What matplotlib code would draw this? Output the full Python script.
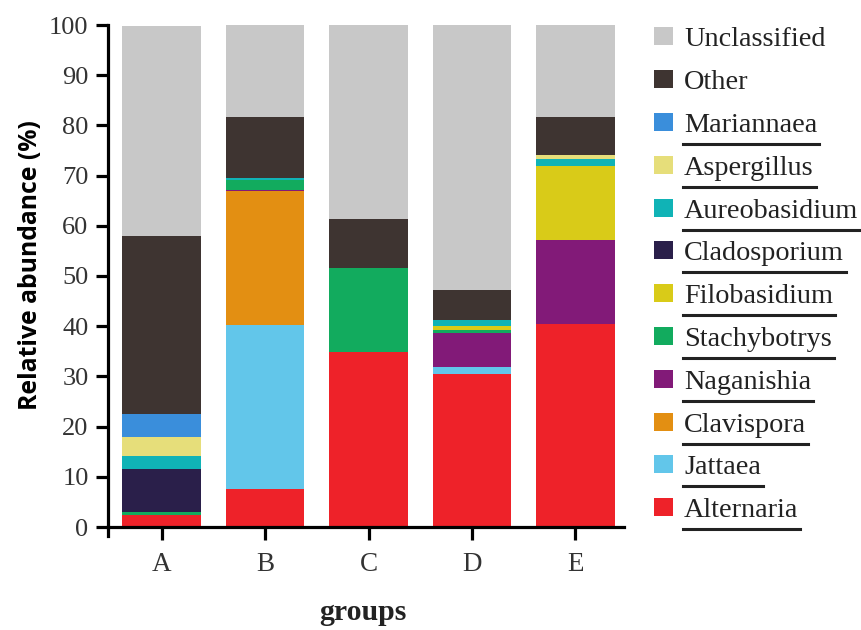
import matplotlib
matplotlib.use("Agg")
import matplotlib.pyplot as plt
import numpy as np
from matplotlib.patches import Rectangle
from matplotlib.lines import Line2D

groups = ["A", "B", "C", "D", "E"]

# stacked bottom -> top
taxa = ["Alternaria", "Jattaea", "Clavispora", "Naganishia", "Stachybotrys",
        "Filobasidium", "Cladosporium", "Aureobasidium", "Aspergillus",
        "Mariannaea", "Other", "Unclassified"]

Alternaria    = [2.4, 7.6, 34.8, 30.5, 40.4]
Jattaea       = [0.0, 32.6, 0.0, 1.4, 0.0]
Clavispora    = [0.0, 26.7, 0.0, 0.0, 0.0]
Naganishia    = [0.0, 0.3, 0.0, 6.8, 16.7]
Stachybotrys  = [0.5, 1.9, 16.7, 0.5, 0.0]
Filobasidium  = [0.0, 0.0, 0.0, 0.8, 14.8]
Cladosporium  = [8.7, 0.0, 0.0, 0.0, 0.0]
Aureobasidium = [2.6, 0.4, 0.0, 1.2, 1.5]
Aspergillus   = [3.8, 0.0, 0.0, 0.0, 0.7]
Mariannaea    = [4.6, 0.0, 0.0, 0.0, 0.0]
Other         = [35.4, 12.1, 9.9, 6.0, 7.6]
Unclassified  = [41.8, 18.4, 38.6, 52.8, 18.3]

values = {
    "Alternaria": Alternaria, "Jattaea": Jattaea, "Clavispora": Clavispora,
    "Naganishia": Naganishia, "Stachybotrys": Stachybotrys,
    "Filobasidium": Filobasidium, "Cladosporium": Cladosporium,
    "Aureobasidium": Aureobasidium, "Aspergillus": Aspergillus,
    "Mariannaea": Mariannaea, "Other": Other, "Unclassified": Unclassified,
}

colors = {
    "Unclassified": "#C8C8C8",
    "Other": "#3E3431",
    "Mariannaea": "#3A8EDB",
    "Aspergillus": "#E6DE7A",
    "Aureobasidium": "#10B3B6",
    "Cladosporium": "#2A1F4A",
    "Filobasidium": "#D9CB18",
    "Stachybotrys": "#12AB5E",
    "Naganishia": "#821A78",
    "Clavispora": "#E38F12",
    "Jattaea": "#62C6EA",
    "Alternaria": "#EE2229",
}

W, H = 861, 630
fig = plt.figure(figsize=(W / 100, H / 100), dpi=100)
ax = fig.add_axes([108 / W, 1 - 527 / H, (624 - 108) / W, 502 / H])

x = np.arange(len(groups))
bottom = np.zeros(len(groups))
for t in taxa:
    v = np.array(values[t])
    ax.bar(x, v, bottom=bottom, width=0.76, color=colors[t], linewidth=0)
    bottom += v

ax.set_xlim(-0.52, 4.47)
ax.set_ylim(0, 100)
ax.set_yticks(np.arange(0, 101, 10))
ax.set_xticks(x)
ax.set_xticklabels(groups)
for s in ["top", "right"]:
    ax.spines[s].set_visible(False)
for s in ["left", "bottom"]:
    ax.spines[s].set_linewidth(2.3)
ax.tick_params(axis="both", width=2.3, length=9, direction="out",
               labelsize=19.5, colors="black")
ax.tick_params(axis="y", labelsize=19, pad=5)
ax.tick_params(axis="x", pad=9)
for lab in ax.get_xticklabels() + ax.get_yticklabels():
    lab.set_fontfamily("Liberation Serif")
    lab.set_color("#333333")

# extra tick below origin
fig.add_artist(Line2D([108 / W, 108 / W], [1 - 527 / H, 1 - 536 / H],
                      color="black", lw=2.3))

fig.text(31 / W, 1 - 265 / H, "Relative abundance (%)", rotation=90,
         ha="center", va="center", fontsize=17.8, fontweight="bold",
         family="Open Sans")
fig.text(363 / W, 1 - 612 / H, "groups", ha="center", va="center",
         fontsize=21.5, fontweight="bold", family="Liberation Serif",
         color="#222222")

# legend (manual)
legend_order = ["Unclassified", "Other", "Mariannaea", "Aspergillus",
                "Aureobasidium", "Cladosporium", "Filobasidium",
                "Stachybotrys", "Naganishia", "Clavispora", "Jattaea",
                "Alternaria"]
ul0, step = 144 - 2 * 42.8, 42.8
renderer = fig.canvas.get_renderer()
for i, name in enumerate(legend_order):
    ul = ul0 + i * step
    base = ul - 12
    fig.add_artist(Rectangle((654 / W, 1 - (base - 1) / H), 19 / W, 18 / H,
                             transform=fig.transFigure, color=colors[name],
                             linewidth=0))
    txt = fig.text(684 / W, 1 - base / H, name, ha="left", va="baseline",
                   fontsize=20.3, family="Liberation Serif", color="#222222")
    if name not in ("Unclassified", "Other"):
        bb = txt.get_window_extent(renderer=renderer)
        x1 = (bb.x1 + 2) / W
        fig.add_artist(Line2D([683 / W, x1], [1 - ul / H] * 2,
                              color="#222222", lw=2.2))

fig.savefig("out.png", dpi=100)
